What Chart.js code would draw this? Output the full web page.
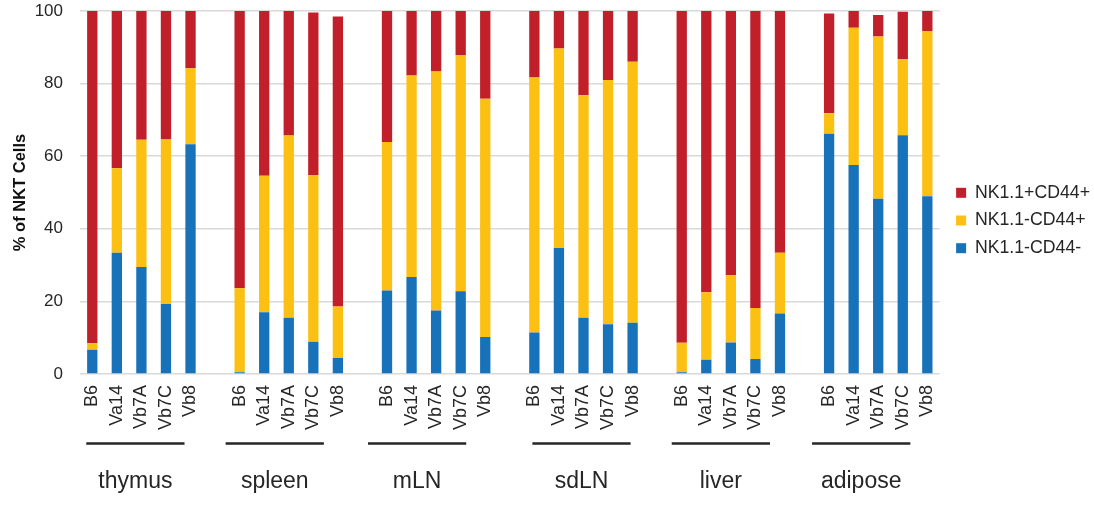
<!DOCTYPE html>
<html>
<head>
<meta charset="utf-8">
<script src="https://cdn.jsdelivr.net/npm/chart.js@4/dist/chart.umd.min.js"></script>
<style>
  html, body { margin: 0; padding: 0; background: #ffffff; }
  #wrap { width: 1094px; height: 508px; position: relative; }
</style>
</head>
<body>
<div id="wrap"><canvas id="c" width="1094" height="508"></canvas></div>
<script>
// Tissues and mouse strains
const tissues = ['thymus', 'spleen', 'mLN', 'sdLN', 'liver', 'adipose'];
const strains = ['B6', 'Va14', 'Vb7A', 'Vb7C', 'Vb8'];

// % of NKT cells per subset, listed tissue by tissue (5 strains each)
const nk1Neg44Neg = [
  6.7, 33.4, 29.5, 19.3, 63.3,
  0.5, 17.0, 15.5, 8.9, 4.4,
  23.0, 26.7, 17.5, 22.8, 10.2,
  11.4, 34.7, 15.5, 13.7, 14.1,
  0.5, 3.9, 8.7, 4.1, 16.7,
  66.2, 57.6, 48.3, 65.8, 49.0
];
const nk1Neg44Pos = [
  1.8, 23.3, 35.0, 45.3, 20.9,
  23.1, 37.6, 50.2, 45.9, 14.2,
  40.9, 55.5, 65.8, 65.1, 65.6,
  70.3, 55.0, 61.3, 67.3, 71.9,
  8.1, 18.6, 18.5, 14.1, 16.7,
  5.6, 37.8, 44.7, 21.0, 45.5
];
const nk1Pos44Pos = [
  91.5, 43.3, 35.5, 35.4, 15.8,
  76.4, 45.4, 34.3, 44.8, 79.9,
  36.1, 17.8, 16.7, 12.1, 24.2,
  18.3, 10.3, 23.2, 19.0, 14.0,
  91.4, 77.5, 72.8, 81.8, 66.6,
  27.5, 4.6, 5.9, 13.0, 5.5
];

const yTicks = [0, 20, 40, 60, 80, 100];

// One blank category between tissues keeps the groups apart
function spread(values) {
  const out = [];
  tissues.forEach((t, g) => {
    if (g > 0) out.push(null);
    strains.forEach((s, i) => out.push(values[g * strains.length + i]));
  });
  return out;
}
const xLabels = [];
tissues.forEach((t, g) => {
  if (g > 0) xLabels.push('');
  strains.forEach(s => xLabels.push(s));
});

const FONT = "'Liberation Sans', Arial, Helvetica, sans-serif";
const TEXT = '#262626';

// Small horizontal nudges for the bracket + tissue name under each group
const groupNudge = [-6, -14, -19, -2, -10, -17];

const groupLabels = {
  id: 'groupLabels',
  afterDraw(chart) {
    const { ctx, chartArea } = chart;
    const x = chart.scales.x;
    ctx.save();
    ctx.strokeStyle = TEXT;
    ctx.fillStyle = TEXT;
    ctx.lineWidth = 2.5;
    ctx.font = '23px ' + FONT;
    ctx.textAlign = 'center';
    ctx.textBaseline = 'alphabetic';
    tissues.forEach((t, g) => {
      const first = g * (strains.length + 1);
      const last = first + strains.length - 1;
      const x0 = x.getPixelForValue(first) + groupNudge[g];
      const x1 = x.getPixelForValue(last) + groupNudge[g];
      const ly = chartArea.bottom + 69.5;
      ctx.beginPath();
      ctx.moveTo(x0, ly);
      ctx.lineTo(x1, ly);
      ctx.stroke();
      ctx.fillText(t, (x0 + x1) / 2, chartArea.bottom + 114);
    });
    ctx.restore();
  }
};

new Chart(document.getElementById('c'), {
  type: 'bar',
  data: {
    labels: xLabels,
    datasets: [
      { label: 'NK1.1-CD44-', data: spread(nk1Neg44Neg), backgroundColor: '#1772B9' },
      { label: 'NK1.1-CD44+', data: spread(nk1Neg44Pos), backgroundColor: '#FCC012' },
      { label: 'NK1.1+CD44+', data: spread(nk1Pos44Pos), backgroundColor: '#C1202A' }
    ]
  },
  options: {
    responsive: false,
    animation: false,
    devicePixelRatio: 1,
    layout: { padding: { top: 11, right: -6, bottom: 78, left: 0 } },
    datasets: { bar: { barPercentage: 0.42, categoryPercentage: 1.0 } },
    plugins: {
      legend: {
        position: 'right',
        reverse: true,
        labels: {
          boxWidth: 10,
          boxHeight: 10,
          padding: 10,
          color: TEXT,
          font: { family: FONT, size: 17.7 }
        }
      },
      tooltip: { enabled: false }
    },
    scales: {
      x: {
        stacked: true,
        grid: { display: false },
        border: { display: false },
        ticks: {
          color: TEXT,
          font: { family: FONT, size: 18 },
          minRotation: 90,
          maxRotation: 90,
          autoSkip: false,
          padding: 3
        },
        afterFit(s) { s.height = 56; }
      },
      y: {
        stacked: true,
        min: 0,
        max: 100,
        afterBuildTicks(s) { s.ticks = yTicks.map(v => ({ value: v })); },
        grid: { color: '#d9d9d9', lineWidth: 1.5, drawTicks: false },
        border: { display: false },
        ticks: {
          color: TEXT,
          font: { family: FONT, size: 17 },
          padding: 17
        },
        title: {
          display: true,
          text: '% of NKT Cells',
          color: '#111111',
          font: { family: FONT, size: 16.5, weight: 'bold' },
          padding: { top: 11, bottom: 0 }
        },
        afterFit(s) {
          s.width = 80;
          s.paddingTop = 0;
          s.paddingBottom = 0;
        }
      },
      gap: {
        type: 'linear',
        position: 'right',
        display: true,
        grid: { display: false },
        border: { display: false },
        ticks: { display: false },
        afterFit(s) { s.width = 6.5; }
      }
    }
  },
  plugins: [groupLabels]
});
</script>
</body>
</html>
